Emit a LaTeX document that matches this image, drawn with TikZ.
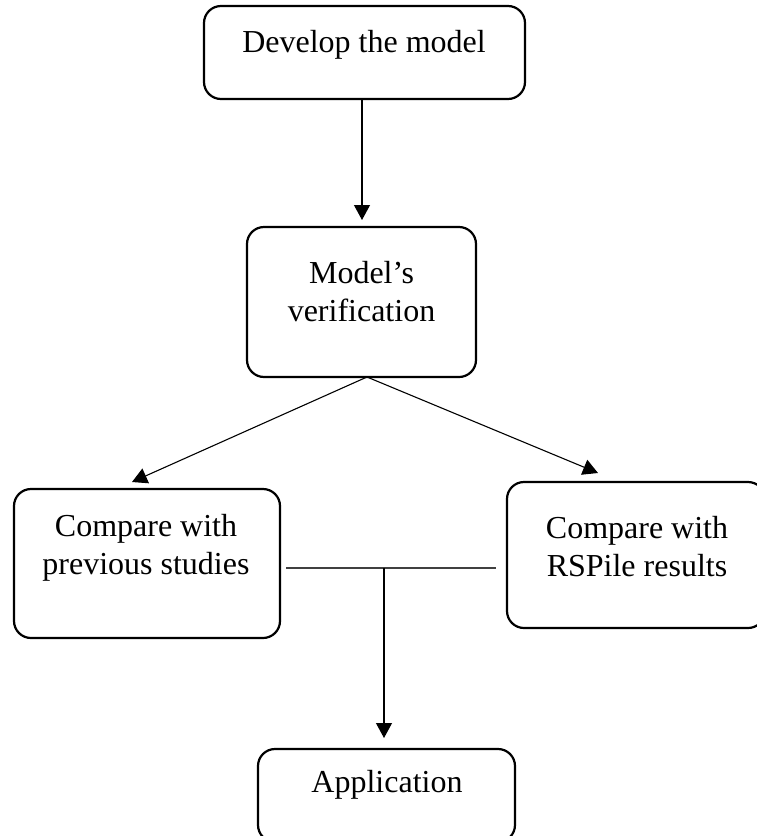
\documentclass[tikz,border=0pt]{standalone}
\usepackage{fontspec}
\setmainfont{Liberation Serif}
\usetikzlibrary{arrows.meta}
\begin{document}
\begin{tikzpicture}[x=1pt,y=-1pt,
  box/.style={draw, line width=2.2pt, rounded corners=17pt, inner sep=0pt},
  txt/.style={font=\fontsize{32}{38}\selectfont, align=center, inner sep=0pt},
  conn/.style={line width=1.1pt, -{Triangle[length=15pt,width=16pt]}},
  plain/.style={line width=1.3pt, draw=black!75},
]
\useasboundingbox (0,0) rectangle (757,836);
\node[box, minimum width=321pt, minimum height=93pt] (b1) at (364.5,52.5) {};
\node[txt] (t1) at (364,45) {Develop the model};
\node[box, minimum width=229pt, minimum height=150pt] (b2) at (361.5,302) {};
\node[txt] (t2) at (361.5,291.5) {Model’s\\verification};
\node[box, minimum width=266pt, minimum height=149pt] (b3) at (147,563.5) {};
\node[txt] (t3) at (146,548) {Compare with\\previous studies};
\node[box, minimum width=258pt, minimum height=146pt] (b4) at (636,555) {};
\node[txt] (t4) at (637,546.5) {Compare with\\RSPile results};
\node[box, minimum width=257pt, minimum height=93pt] (b5) at (386.5,795.5) {};
\node[txt] (t5) at (387,785) {Application};
\coordinate (c1) at (362,220);
\coordinate (s2) at (367,377);
\coordinate (c2) at (132,482);
\coordinate (c3) at (598,473);
\coordinate (hl) at (286,568);
\coordinate (hr) at (496,568);
\coordinate (hm) at (384,568);
\coordinate (c5) at (384,738);
\draw[conn] (b1.south -| c1) -- (c1);
\draw[conn] (s2) -- (c2);
\draw[conn] (s2) -- (c3);
\draw[plain] (hl) -- (hr);
\draw[conn] (hm) -- (c5);
\end{tikzpicture}
\end{document}
